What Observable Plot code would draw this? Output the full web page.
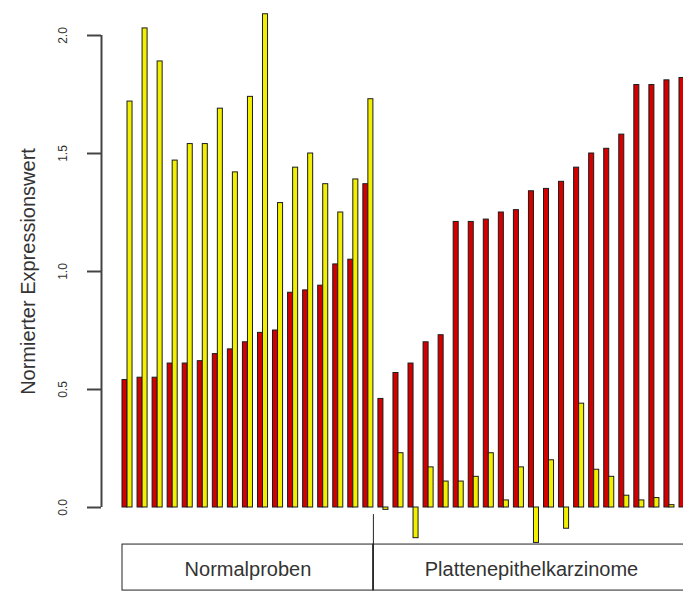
<!DOCTYPE html>
<html>
<head>
<meta charset="utf-8">
<script src="https://cdn.jsdelivr.net/npm/d3@7"></script>
<script src="https://cdn.jsdelivr.net/npm/@observablehq/plot@0.6"></script>
<style>
  html, body { margin: 0; padding: 0; background: #fff; }
  #chart svg { display: block; }
</style>
</head>
<body>
<div id="chart"></div>
<script>
// ---- data ----
const groupNames = ["Normalproben", "Plattenepithelkarzinome"];
const normalRed    = [0.54,0.55,0.55,0.61,0.61,0.62,0.65,0.67,0.70,0.74,0.75,0.91,0.92,0.94,1.03,1.05,1.37];
const normalYellow = [1.72,2.03,1.89,1.47,1.54,1.54,1.69,1.42,1.74,2.09,1.29,1.44,1.50,1.37,1.25,1.39,1.73];
const tumorRed     = [0.46,0.57,0.61,0.70,0.73,1.21,1.21,1.22,1.25,1.26,1.34,1.35,1.38,1.44,1.50,1.52,1.58,1.79,1.79,1.81,1.82];
const tumorYellow  = [-0.01,0.23,-0.13,0.17,0.11,0.11,0.13,0.23,0.03,0.17,-0.15,0.20,-0.09,0.44,0.16,0.13,0.05,0.03,0.04,0.01,0.02];
const yTicks = [0, 0.5, 1.0, 1.5, 2.0];
const yTickLabels = ["0.0", "0.5", "1.0", "1.5", "2.0"];
const yTitle = "Normierter Expressionswert";

// ---- build table ----
const samples = [];
[[normalRed, normalYellow], [tumorRed, tumorYellow]].forEach(([r, y], g) => {
  r.forEach((v, k) => samples.push({i: samples.length, group: groupNames[g], red: v, yellow: y[k]}));
});
const nNormal = normalRed.length;
const nTotal = samples.length;
// groups in bar units (each sample pair = 3 units: red, yellow, gap)
const groups = [
  {name: groupNames[0], start: 0, end: 3 * nNormal - 1},
  {name: groupNames[1], start: 3 * nNormal - 1, end: 3 * nTotal - 1}
];

// layout: bar unit in px; the y axis sits 21px left of the first bar
const xMax = 111.8;
const unitPx = (683 - 122) / xMax;
const xAxis = -21 / unitPx;
const tickLen = 14 / unitPx;

const font = "'Liberation Sans', Arial, Helvetica, sans-serif";
const textColor = "#333";
const edge = "#1c1c1c";
const axisColor = "#444";

const chart = Plot.plot({
  width: 683,
  height: 592,
  marginLeft: 101,
  marginRight: 0,
  marginTop: 35,
  marginBottom: 85,
  style: {fontFamily: font, background: "#fff", color: textColor},
  x: {type: "linear", domain: [xAxis, xMax], axis: null},
  y: {domain: [0, 2], axis: null},
  marks: [
    // bars
    Plot.rect(samples, {x1: d => 3 * d.i, x2: d => 3 * d.i + 1, y1: 0, y2: "red",
      fill: "#d40000", stroke: edge, strokeWidth: 1}),
    Plot.rect(samples, {x1: d => 3 * d.i + 1, x2: d => 3 * d.i + 2, y1: 0, y2: "yellow",
      fill: "#f2f000", stroke: edge, strokeWidth: 1}),
    // y axis (R style, detached from the bars)
    Plot.ruleX([xAxis], {x: d => d, y1: () => yTicks[0], y2: () => yTicks[yTicks.length - 1],
      stroke: axisColor, strokeWidth: 2}),
    Plot.ruleY(yTicks, {y: d => d, x1: () => xAxis - tickLen, x2: () => xAxis,
      stroke: axisColor, strokeWidth: 2}),
    Plot.text(yTicks, {y: d => d, frameAnchor: "left", dx: -38, rotate: -90, textAnchor: "middle",
      lineAnchor: "middle", text: (d, k) => yTickLabels[k], fontSize: 12, fill: textColor}),
    Plot.text([yTitle], {y: 1, frameAnchor: "left", dx: -73, rotate: -90, textAnchor: "middle",
      lineAnchor: "middle", text: d => d, fontSize: 20, fill: textColor, style: "letter-spacing: 0.9px"}),
    // group boxes below the bars
    Plot.rect(groups, {x1: "start", x2: "end", y1: -0.157, y2: -0.352, fill: "none", stroke: "#222"}),
    Plot.ruleX([groups[1].start], {y1: -0.03, y2: -0.352, stroke: "#222"}),
    Plot.text(groups, {x: d => (d.start + d.end) / 2, y: -0.265, text: "name", lineAnchor: "middle",
      fontSize: 20, fill: textColor, style: "letter-spacing: 1.6px"})
  ]
});
document.getElementById("chart").appendChild(chart);
</script>
</body>
</html>
